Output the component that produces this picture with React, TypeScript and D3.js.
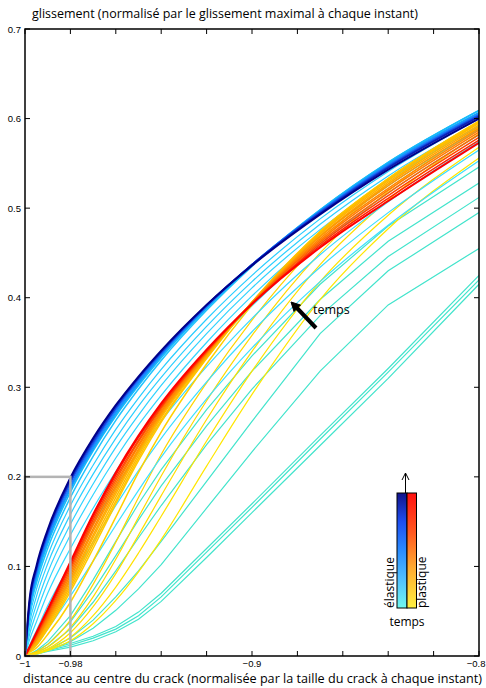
import React from 'react';
import * as d3 from 'd3';

// shared abscissa (distance normalised by crack size)
const xGrid = [-1, -0.998, -0.995, -0.99, -0.98, -0.97, -0.96, -0.95, -0.94, -0.92, -0.9, -0.87, -0.84, -0.8];

// earliest profiles (turquoise)
const earlySlip = [
  [0, 0.002, 0.006, 0.016, 0.045, 0.085, 0.128, 0.170, 0.208, 0.275, 0.335, 0.415, 0.480, 0.546],
  [0, 0.002, 0.005, 0.013, 0.038, 0.073, 0.112, 0.152, 0.190, 0.257, 0.318, 0.398, 0.463, 0.528],
  [0, 0.001, 0.004, 0.010, 0.030, 0.060, 0.095, 0.132, 0.168, 0.236, 0.298, 0.380, 0.446, 0.512],
  [0, 0.001, 0.003, 0.007, 0.020, 0.040, 0.066, 0.095, 0.128, 0.195, 0.262, 0.360, 0.430, 0.495],
  [0, 0.001, 0.002, 0.006, 0.016, 0.031, 0.051, 0.075, 0.102, 0.165, 0.228, 0.318, 0.392, 0.455],
  [0, 0.001, 0.003, 0.007, 0.014, 0.022, 0.033, 0.049, 0.070, 0.120, 0.170, 0.246, 0.321, 0.425],
  [0, 0.001, 0.003, 0.006, 0.012, 0.020, 0.030, 0.045, 0.066, 0.116, 0.166, 0.242, 0.317, 0.420],
  [0, 0.001, 0.002, 0.005, 0.010, 0.017, 0.027, 0.041, 0.061, 0.110, 0.160, 0.235, 0.310, 0.415],
];

// elastic profiles, early (cyan) -> late (dark blue)
const elasticSlip = [
  [0, 0.005, 0.012, 0.030, 0.067, 0.106, 0.146, 0.185, 0.222, 0.287, 0.344, 0.418, 0.481, 0.553],
  [0, 0.008, 0.019, 0.042, 0.085, 0.127, 0.168, 0.207, 0.243, 0.306, 0.362, 0.434, 0.495, 0.565],
  [0, 0.012, 0.028, 0.056, 0.103, 0.147, 0.189, 0.227, 0.262, 0.323, 0.377, 0.448, 0.507, 0.574],
  [0, 0.018, 0.038, 0.070, 0.120, 0.165, 0.206, 0.244, 0.278, 0.338, 0.391, 0.460, 0.517, 0.582],
  [0, 0.024, 0.048, 0.082, 0.135, 0.180, 0.221, 0.258, 0.291, 0.350, 0.402, 0.469, 0.525, 0.588],
  [0, 0.030, 0.057, 0.093, 0.147, 0.192, 0.233, 0.269, 0.302, 0.360, 0.411, 0.476, 0.531, 0.592],
  [0, 0.036, 0.066, 0.103, 0.158, 0.203, 0.243, 0.279, 0.311, 0.368, 0.418, 0.482, 0.536, 0.596],
  [0, 0.042, 0.074, 0.112, 0.168, 0.213, 0.253, 0.288, 0.320, 0.376, 0.425, 0.488, 0.541, 0.600],
  [0, 0.047, 0.081, 0.120, 0.177, 0.223, 0.263, 0.298, 0.330, 0.386, 0.435, 0.498, 0.551, 0.609],
  [0, 0.050, 0.085, 0.125, 0.183, 0.229, 0.268, 0.302, 0.333, 0.388, 0.436, 0.498, 0.551, 0.609],
  [0, 0.052, 0.088, 0.128, 0.186, 0.231, 0.270, 0.304, 0.335, 0.389, 0.436, 0.497, 0.550, 0.607],
  [0, 0.053, 0.090, 0.130, 0.188, 0.233, 0.272, 0.305, 0.336, 0.390, 0.437, 0.497, 0.549, 0.606],
  [0, 0.055, 0.092, 0.133, 0.190, 0.235, 0.274, 0.307, 0.337, 0.390, 0.437, 0.496, 0.548, 0.605],
  [0, 0.057, 0.094, 0.135, 0.193, 0.237, 0.276, 0.309, 0.338, 0.391, 0.437, 0.496, 0.547, 0.604],
  [0, 0.059, 0.096, 0.137, 0.195, 0.239, 0.277, 0.310, 0.339, 0.391, 0.437, 0.495, 0.546, 0.603],
  [0, 0.061, 0.098, 0.139, 0.197, 0.241, 0.279, 0.311, 0.340, 0.392, 0.437, 0.494, 0.545, 0.602],
  [0, 0.063, 0.100, 0.141, 0.199, 0.243, 0.280, 0.312, 0.341, 0.392, 0.436, 0.493, 0.543, 0.600],
];

// plastic profiles, early (yellow) -> late (red)
const plasticSlip = [
  [0, 0.001, 0.002, 0.006, 0.017, 0.036, 0.062, 0.094, 0.130, 0.212, 0.292, 0.398, 0.477, 0.556],
  [0, 0.001, 0.003, 0.007, 0.021, 0.045, 0.077, 0.115, 0.156, 0.240, 0.318, 0.418, 0.492, 0.568],
  [0, 0.001, 0.003, 0.008, 0.026, 0.055, 0.092, 0.135, 0.179, 0.264, 0.340, 0.437, 0.509, 0.583],
  [0, 0.002, 0.004, 0.010, 0.032, 0.066, 0.108, 0.155, 0.201, 0.285, 0.358, 0.450, 0.519, 0.590],
  [0, 0.002, 0.005, 0.013, 0.040, 0.080, 0.127, 0.177, 0.225, 0.305, 0.375, 0.462, 0.527, 0.595],
  [0, 0.004, 0.009, 0.024, 0.060, 0.106, 0.155, 0.205, 0.250, 0.326, 0.392, 0.474, 0.533, 0.597],
  [0, 0.005, 0.012, 0.030, 0.072, 0.120, 0.170, 0.218, 0.261, 0.332, 0.395, 0.474, 0.533, 0.597],
  [0, 0.005, 0.013, 0.032, 0.075, 0.124, 0.173, 0.221, 0.263, 0.333, 0.395, 0.473, 0.532, 0.596],
  [0, 0.006, 0.014, 0.034, 0.078, 0.128, 0.177, 0.224, 0.266, 0.334, 0.395, 0.472, 0.531, 0.595],
  [0, 0.006, 0.015, 0.036, 0.081, 0.132, 0.181, 0.227, 0.268, 0.335, 0.395, 0.471, 0.529, 0.593],
  [0, 0.007, 0.017, 0.038, 0.084, 0.135, 0.184, 0.229, 0.269, 0.336, 0.395, 0.469, 0.527, 0.591],
  [0, 0.007, 0.018, 0.040, 0.087, 0.139, 0.187, 0.231, 0.271, 0.337, 0.394, 0.468, 0.525, 0.589],
  [0, 0.008, 0.019, 0.042, 0.090, 0.142, 0.190, 0.234, 0.273, 0.338, 0.394, 0.466, 0.522, 0.587],
  [0, 0.008, 0.021, 0.044, 0.093, 0.146, 0.193, 0.236, 0.275, 0.339, 0.394, 0.464, 0.520, 0.585],
  [0, 0.009, 0.022, 0.046, 0.096, 0.149, 0.196, 0.239, 0.277, 0.339, 0.394, 0.462, 0.517, 0.582],
  [0, 0.009, 0.023, 0.048, 0.099, 0.152, 0.199, 0.241, 0.278, 0.340, 0.393, 0.460, 0.514, 0.579],
  [0, 0.010, 0.025, 0.050, 0.102, 0.155, 0.202, 0.244, 0.280, 0.341, 0.393, 0.458, 0.511, 0.576],
  [0, 0.010, 0.026, 0.052, 0.105, 0.158, 0.205, 0.246, 0.282, 0.342, 0.393, 0.456, 0.508, 0.573],
];

const xTicks = [-1, -0.98, -0.96, -0.94, -0.92, -0.9, -0.88, -0.86, -0.84, -0.82, -0.8];
const xLabelValues = [-1, -0.98, -0.9, -0.8];
const xLabelTexts = ['\u22121', '\u22120.98', '\u22120.9', '\u22120.8'];
const yTicks = [0, 0.1, 0.2, 0.3, 0.4, 0.5, 0.6, 0.7];
const yLabelTexts = ['0', '0.1', '0.2', '0.3', '0.4', '0.5', '0.6', '0.7'];

const W = 486, H = 688;
const TICKFONT = '"Liberation Sans", Arial, sans-serif';
const FONT = '"Open Sans", "Liberation Sans", sans-serif';

export default function App() {
  const x = d3.scaleLinear().domain([-1, -0.8]).range([25, 479]);
  const y = d3.scaleLinear().domain([0, 0.7]).range([656, 29]);
  const smooth = d3.line<number>().x((_, i) => x(xGrid[i])).y(d => y(d)).curve(d3.curveMonotoneX);
  const rough = d3.line<number>().x((_, i) => x(xGrid[i])).y(d => y(d)).curve(d3.curveLinear);

  const elasticColor = d3.scaleLinear<string>()
    .domain([0, 0.45, 0.6, 0.75, 0.9, 1])
    .range(['#3ee0ff', '#27ccff', '#12b4f8', '#1a80ff', '#1030d0', '#00008a'])
    .interpolate(d3.interpolateRgb);
  const plasticColor = d3.scaleLinear<string>()
    .domain([0, 0.3, 0.55, 0.8, 1])
    .range(['#ffe600', '#ffd000', '#ffb000', '#ff7000', '#ff0000'])
    .interpolate(d3.interpolateRgb);

  const nE = elasticSlip.length, nP = plasticSlip.length;
  const left = x(-1), right = x(-0.8), top = y(0.7), bottom = y(0);

  return (
    <svg width={W} height={H} style={{ position: 'absolute', left: 0, top: 0, background: '#fff' }}
      fontFamily={FONT}>
      <defs>
        <clipPath id="plotClip">
          <rect x={left} y={top} width={right - left} height={bottom - top} />
        </clipPath>
        <linearGradient id="gElastic" x1="0" y1="0" x2="0" y2="1">
          <stop offset="0" stopColor="#12128a" />
          <stop offset="0.25" stopColor="#1e4ef0" />
          <stop offset="0.5" stopColor="#2a8cff" />
          <stop offset="0.75" stopColor="#50c0ff" />
          <stop offset="1" stopColor="#70f8f0" />
        </linearGradient>
        <linearGradient id="gPlastic" x1="0" y1="0" x2="0" y2="1">
          <stop offset="0" stopColor="#ff1010" />
          <stop offset="0.35" stopColor="#ff5a20" />
          <stop offset="0.65" stopColor="#ffaa30" />
          <stop offset="1" stopColor="#fff040" />
        </linearGradient>
      </defs>

      <g clipPath="url(#plotClip)" fill="none">
        {earlySlip.map((s, i) => (
          <path key={'t' + i} d={rough(s) || ''} stroke="#42e4cc" strokeWidth={1.2} />
        ))}
        {plasticSlip.slice(0, 5).map((s, i) => (
          <path key={'py' + i} d={smooth(s) || ''} stroke={plasticColor(i / (nP - 1))} strokeWidth={1.2} />
        ))}
        {elasticSlip.slice(0, 8).map((s, i) => (
          <path key={'ec' + i} d={smooth(s) || ''} stroke={elasticColor(i / (nE - 1))} strokeWidth={1.2} />
        ))}
        {plasticSlip.slice(5).map((s, j) => {
          const i = j + 5;
          return <path key={'po' + i} d={smooth(s) || ''} stroke={plasticColor(i / (nP - 1))}
            strokeWidth={i === nP - 1 ? 2 : 1.5} />;
        })}
        {elasticSlip.slice(8).map((s, j) => {
          const i = j + 8;
          return <path key={'eb' + i} d={smooth(s) || ''} stroke={elasticColor(i / (nE - 1))}
            strokeWidth={i === nE - 1 ? 2 : 1.5} />;
        })}
      </g>

      {/* zoom box */}
      <rect x={x(-1)} y={y(0.2)} width={x(-0.98) - x(-1)} height={y(0) - y(0.2)}
        fill="none" stroke="#b4b4b4" strokeWidth={2.5} />

      {/* axes box and ticks */}
      <rect x={left} y={top} width={right - left} height={bottom - top} fill="none" stroke="#000" strokeWidth={1.5} />
      {xTicks.map((t, i) => (
        <g key={'xt' + i} stroke="#000" strokeWidth={1}>
          <line x1={x(t)} x2={x(t)} y1={bottom} y2={bottom - 5} />
          <line x1={x(t)} x2={x(t)} y1={top} y2={top + 5} />
        </g>
      ))}
      {yTicks.map((t, i) => (
        <g key={'yt' + i} stroke="#000" strokeWidth={1}>
          <line x1={left} x2={left + 5} y1={y(t)} y2={y(t)} />
          <line x1={right} x2={right - 5} y1={y(t)} y2={y(t)} />
        </g>
      ))}
      {xLabelValues.map((v, i) => (
        <text key={'xl' + i} x={i === xLabelValues.length - 1 ? 485.5 : x(v)} y={667} fontSize={9.5}
          fontFamily={TICKFONT} textAnchor={i === xLabelValues.length - 1 ? 'end' : 'middle'} fill="#000">{xLabelTexts[i]}</text>
      ))}
      {yTicks.map((v, i) => (
        <text key={'yl' + i} x={21} y={y(v) + 3.5} fontSize={9.5} fontFamily={TICKFONT} textAnchor="end" fill="#000">{yLabelTexts[i]}</text>
      ))}

      <text x={32} y={18} fontSize={12} fill="#000" textLength={386} lengthAdjust="spacingAndGlyphs">glissement (normalisé par le glissement maximal à chaque instant)</text>
      <text x={23} y={683} fontSize={12} fill="#000" textLength={459} lengthAdjust="spacingAndGlyphs">distance au centre du crack (normalisée par la taille du crack à chaque instant)</text>

      {/* time arrow */}
      <line x1={316} y1={328} x2={296} y2={307} stroke="#000" strokeWidth={4} />
      <polygon points="291,302 300.5,305 294,311.5" fill="#000" stroke="#000" strokeWidth={1} />
      <text x={313} y={314} fontSize={12.5} fill="#000">temps</text>

      {/* colour bars */}
      <line x1={405.5} y1={493} x2={405.5} y2={473} stroke="#000" strokeWidth={1} />
      <polyline points="402,480 405.5,473 409,480" fill="none" stroke="#000" strokeWidth={1} />
      <rect x={397} y={493} width={10} height={115} fill="url(#gElastic)" stroke="#000" strokeWidth={1} />
      <rect x={407} y={493} width={9.5} height={115} fill="url(#gPlastic)" stroke="#000" strokeWidth={1} />
      <text transform="translate(394,608) rotate(-90)" fontSize={12} fill="#000">élastique</text>
      <text transform="translate(426,608) rotate(-90)" fontSize={12} fill="#000">plastique</text>
      <text x={407} y={626} fontSize={12} textAnchor="middle" fill="#000">temps</text>
    </svg>
  );
}
